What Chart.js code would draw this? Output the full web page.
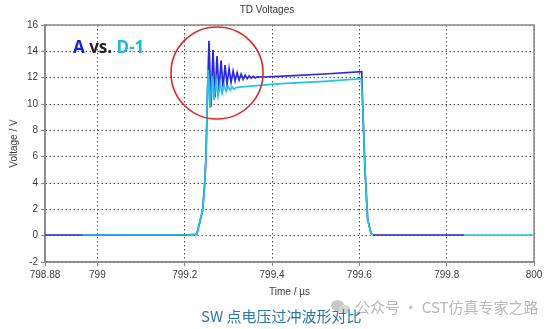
<!DOCTYPE html>
<html>
<head>
<meta charset="utf-8">
<script src="https://cdn.jsdelivr.net/npm/chart.js@4"></script>
<style>
  html, body { margin: 0; padding: 0; background: #fff; }
  #wrap { position: relative; width: 554px; height: 329px; }
  #legendText {
    position: absolute; left: 73px; top: 35px;
    font: bold 17px "Open Sans", sans-serif; letter-spacing: 0px;
  }
  #caption {
    position: absolute; left: 201px; top: 305px;
    font: 15px "Noto Sans CJK SC", sans-serif; color: #2a78ad;
  }
  #mark {
    position: absolute; left: 355px; top: 296px;
    font: 15px "Noto Sans CJK SC", sans-serif; color: #b8b8b8;
  }
  .bub { position: absolute; border-radius: 50%; background: #c8c8c8; }
</style>
</head>
<body>
<div id="wrap">
  <canvas id="chart" width="554" height="329"></canvas>
  <div id="legendText"><span style="color:#1c1cd8">A</span> <span style="color:#222">vs.</span> <span style="color:#1eb6e2">D-1</span></div>
  <div class="bub" style="left:331px;top:300px;width:13px;height:11px;"></div>
  <div class="bub" style="left:339px;top:305px;width:11px;height:9px;background:#d6d6d6;"></div>
  <div id="mark">公众号 · CST仿真专家之路</div>
  <div id="caption">SW 点电压过冲波形对比</div>
</div>
<script>
// time axis in µs, voltage in V
const xTicks = [798.88, 799, 799.2, 799.4, 799.6, 799.8, 800];

// A (dark blue)
const timeA = [798.88, 799.0, 799.2, 799.2275, 799.2412, 799.2458, 799.2488, 799.2517,
  799.2556, 799.2602, 799.2648, 799.2694, 799.274, 799.2786, 799.2832, 799.2878,
  799.2924, 799.297, 799.3016, 799.3062, 799.3108, 799.3154, 799.32, 799.3246,
  799.3292, 799.3338, 799.3384, 799.343, 799.3476, 799.3522, 799.3568, 799.3614,
  799.366, 799.38, 799.45, 799.52, 799.6054, 799.6067, 799.6129, 799.6191,
  799.6267, 799.632, 799.84];
const voltA = [0.05, 0.05, 0.05, 0.1, 1.95, 4.0, 6.0, 10.3,
  14.8, 9.8, 14.1, 10.5, 13.65, 10.95, 13.3, 11.25,
  12.95, 11.5, 12.7, 11.65, 12.5, 11.75, 12.38, 11.82,
  12.28, 11.88, 12.2, 11.92, 12.14, 11.96, 12.1, 11.98,
  12.06, 12.05, 12.15, 12.28, 12.45, 10.8, 5.0, 1.2,
  0.2, 0.05, 0.05];

// D-1 (cyan)
const timeD = [798.966, 799.0, 799.2, 799.2275, 799.2412, 799.2458, 799.2488, 799.2517,
  799.2535, 799.258, 799.2626, 799.2672, 799.2718, 799.2764, 799.281, 799.2856,
  799.2902, 799.2948, 799.2994, 799.304, 799.3086, 799.3132, 799.3178, 799.33,
  799.42, 799.52, 799.604, 799.6067, 799.6129, 799.6191, 799.6267, 799.632,
  799.735, 799.84, 800];
const voltD = [0.05, 0.05, 0.05, 0.1, 1.95, 4.0, 6.0, 10.3,
  12.6, 9.7, 12.1, 10.3, 11.8, 10.6, 11.6, 10.8,
  11.45, 10.95, 11.35, 11.05, 11.3, 11.12, 11.25, 11.3,
  11.55, 11.72, 11.92, 10.8, 5.0, 1.2, 0.2, 0.05,
  null, 0.05, 0.05];

// red circle round the overshoot (centre in data units)
const circleT = 799.274;
const circleV = 12.36;

const toPoints = (xs, ys) => xs.map((x, i) => ({ x: x, y: ys[i] }));

// solid frame around the plot + the red marker circle
const framePlugin = {
  id: 'frame',
  beforeDatasetsDraw(chart) {
    const { ctx, chartArea: a } = chart;
    ctx.save();
    ctx.strokeStyle = '#8a8a8a';
    ctx.lineWidth = 1.5;
    ctx.strokeRect(a.left, a.top, a.right - a.left, a.bottom - a.top);
    ctx.restore();
  },
  afterDatasetsDraw(chart) {
    const { ctx, scales } = chart;
    const cx = scales.x.getPixelForValue(circleT);
    const cy = scales.y.getPixelForValue(circleV);
    ctx.save();
    ctx.strokeStyle = '#e0262a';
    ctx.lineWidth = 1.6;
    ctx.beginPath();
    ctx.arc(cx, cy, 46, 0, Math.PI * 2);
    ctx.stroke();
    ctx.restore();
  }
};

Chart.defaults.font.family = "'Liberation Sans', Arial, sans-serif";
Chart.defaults.font.size = 10;
Chart.defaults.color = '#3a3a3a';

const gridOpts = {
  color: 'rgba(60,60,60,0.9)',
  lineWidth: 1,
  tickLength: 4,
  tickColor: '#8a8a8a',
  tickWidth: 1.2,
  tickBorderDash: []
};
// in v4 border.dash is the dash of the grid lines, the axis line stays solid
const borderOpts = { color: '#8a8a8a', width: 1.5, dash: [1.5, 2.5] };

new Chart(document.getElementById('chart'), {
  type: 'line',
  data: {
    datasets: [
      {
        label: 'D-1',
        data: toPoints(timeD, voltD),
        borderColor: '#22c4de',
        borderWidth: 1.7,
        pointRadius: 0,
        spanGaps: false
      },
      {
        label: 'A',
        data: toPoints(timeA, voltA),
        borderColor: '#2a2ad2',
        borderWidth: 1.7,
        pointRadius: 0
      }
    ]
  },
  options: {
    responsive: false,
    animation: false,
    devicePixelRatio: 1,
    layout: { padding: { left: 0, right: 20, top: 0, bottom: 27 } },
    plugins: {
      legend: { display: false },
      tooltip: { enabled: false },
      title: {
        display: true,
        text: 'TD Voltages',
        color: '#333',
        font: { size: 10, weight: 'normal' },
        padding: { top: 4, bottom: 9 }
      }
    },
    scales: {
      x: {
        type: 'linear',
        min: 798.88,
        max: 800,
        afterBuildTicks: (scale) => { scale.ticks = xTicks.map(v => ({ value: v })); },
        afterFit: (scale) => { scale.height = 40; },
        ticks: {
          autoSkip: false,
          maxRotation: 0,
          padding: 3,
          callback: (v) => String(+v.toFixed(2))
        },
        grid: gridOpts,
        border: borderOpts,
        title: { display: true, text: 'Time / µs', padding: { top: 0, bottom: 4 } }
      },
      y: {
        min: -2,
        max: 16,
        afterFit: (scale) => { scale.width = 45; },
        ticks: { stepSize: 2, padding: 3 },
        grid: gridOpts,
        border: borderOpts,
        title: { display: true, text: 'Voltage / V', padding: { top: 8, bottom: 0 } }
      }
    }
  },
  plugins: [framePlugin]
});
</script>
</body>
</html>
